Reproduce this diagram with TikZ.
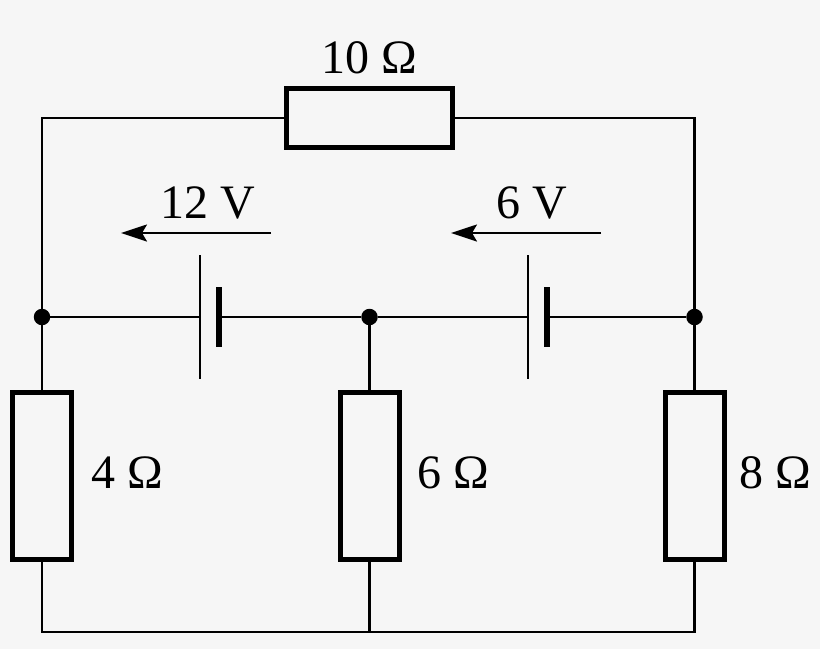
\documentclass[tikz,border=0pt]{standalone}
\usepackage{fontspec}
\setmainfont{Liberation Serif}
\usetikzlibrary{arrows.meta}
\definecolor{bg}{HTML}{F6F6F6}
\begin{document}
\begin{tikzpicture}[x=1pt,y=-1pt,
  wire/.style={line width=2.2pt,black},
  res/.style={draw=black,line width=5pt,fill=none,inner sep=0pt,outer sep=0pt},
  dot/.style={circle,fill=black,minimum size=16.5pt,inner sep=0pt},
  lab/.style={font=\fontsize{48}{48}\selectfont,inner sep=0pt,text=black},
  plate/.style={line width=2.2pt},
  thick plate/.style={line width=5.2pt},
  volt/.style={line width=2.2pt,-{Stealth[length=26pt,width=17pt,inset=5pt]}}]
\fill[bg] (0,0) rectangle (820,649);
\useasboundingbox (0,0) rectangle (820,649);
\coordinate (tl) at (42,118);
\coordinate (tr) at (694.5,118);
\coordinate (bl) at (42,632);
\coordinate (bm) at (369.5,632);
\coordinate (br) at (694.5,632);
\node[dot] (dl) at (42,317) {};
\node[dot] (dm) at (369.5,317) {};
\node[dot] (dr) at (694.5,317) {};
\node[res,minimum width=165.5pt,minimum height=59pt] (r10) at (369.5,118) {};
\node[res,minimum width=59pt,minimum height=167pt] (r4) at (42,476) {};
\node[res,minimum width=59pt,minimum height=167pt] (r6) at (369.5,476) {};
\node[res,minimum width=59pt,minimum height=167pt] (r8) at (694.5,476) {};
\coordinate (b1a) at (200,255); \coordinate (b1b) at (200,379);
\coordinate (b1c) at (219,287); \coordinate (b1d) at (219,347);
\coordinate (b2a) at (528,255); \coordinate (b2b) at (528,379);
\coordinate (b2c) at (547,287); \coordinate (b2d) at (547,347);
\draw[wire] (r10.west) -- (tl) -- (dl) -- (r4.north);
\draw[wire] (r10.east) -- (tr) -- (dr) -- (r8.north);
\draw[wire] (r4.south) -- (bl) -- (br) -- (r8.south);
\draw[wire] (r6.south) -- (bm);
\draw[wire] (dm) -- (r6.north);
\draw[wire] (dl) -- (200,317);
\draw[wire] (219,317) -- (dm) -- (528,317);
\draw[wire] (547,317) -- (dr);
\draw[plate] (b1a) -- (b1b);
\draw[thick plate] (b1c) -- (b1d);
\draw[plate] (b2a) -- (b2b);
\draw[thick plate] (b2c) -- (b2d);
\coordinate (a1s) at (271,233); \coordinate (a1e) at (121,233);
\coordinate (a2s) at (601,233); \coordinate (a2e) at (451,233);
\draw[volt] (a1s) -- (a1e);
\draw[volt] (a2s) -- (a2e);
\node[lab] (l10) at (369.5,58) {10 Ω};
\node[lab] (l12) at (208,203) {12 V};
\node[lab] (l6v) at (532,203) {6 V};
\node[lab] (l4) at (127.5,473) {4 Ω};
\node[lab] (l6) at (453,473) {6 Ω};
\node[lab] (l8) at (775,473) {8 Ω};
\end{tikzpicture}
\end{document}
